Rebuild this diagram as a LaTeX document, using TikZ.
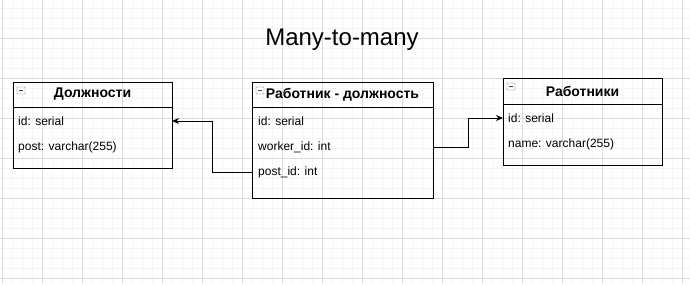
\documentclass[tikz,border=0pt]{standalone}
\usepackage{fontspec}
\setmainfont{Liberation Sans}
\usetikzlibrary{arrows.meta}

\tikzset{
  gridminor/.style={line width=1pt, color=black!4},
  gridmajor/.style={line width=1pt, color=black!14},
  tabhead/.style={draw, line width=1pt, anchor=north west, inner sep=0pt, outer sep=0pt,
    font=\bfseries\fontsize{14}{16}\selectfont},
  tabbody/.style={draw, line width=1pt, anchor=north west, inner sep=0pt, outer sep=0pt},
  field/.style={anchor=west, inner sep=0pt, font=\fontsize{12}{14}\selectfont},
  link/.style={line width=1pt, -{Stealth[length=7pt,width=6pt]}},
}

% small collapse box in the corner of a table header
\newcommand{\collapsebox}[1]{%
  \draw[shift={#1}, black!55, fill=white, rounded corners=0.5pt] (0,0) rectangle (8,7);
  \draw[shift={#1}, black!70] (2,3.5) -- (6,3.5);}

\begin{document}
\begin{tikzpicture}[x=1pt, y=-1pt]
	\useasboundingbox (0,0) rectangle (690,284);
	\fill[white] (0,0) rectangle (690,284);
	% background grid
	\foreach \x in {2,12,...,682} \draw[gridminor] (\x,0) -- (\x,284);
	\foreach \y in {8,18,...,278} \draw[gridminor] (0,\y) -- (690,\y);
	\foreach \x in {2,42,...,682} \draw[gridmajor] (\x,0) -- (\x,284);
	\foreach \y in {38,78,...,278} \draw[gridmajor] (0,\y) -- (690,\y);

	\node (title) at (342,40) {\fontsize{24}{28}\selectfont Many-to-many};

	% positions table
	\node[tabhead, minimum width=159pt, minimum height=25pt] (post-head) at (13,82) {Должности};
	\node[tabbody, minimum width=159pt, minimum height=61pt] (post-body) at (13,107) {};
	\collapsebox{(17,87)}
	\node[field] (post-id) at (18,121) {id: serial};
	\node[field] (post-name) at (18,147) {post: varchar(255)};

	% link table
	\node[tabhead, minimum width=181pt, minimum height=25pt] (link-head) at (252,82) {Работник - должность};
	\node[tabbody, minimum width=181pt, minimum height=91pt] (link-body) at (252,107) {};
	\collapsebox{(256,87)}
	\node[field] (link-id) at (258,121) {id: serial};
	\node[field] (link-workerid) at (258,147) {worker\_id: int};
	\node[field] (link-postid) at (258,172) {post\_id: int};

	% workers table
	\node[tabhead, minimum width=159pt, minimum height=26pt] (worker-head) at (503,78) {Работники};
	\node[tabbody, minimum width=159pt, minimum height=61pt] (worker-body) at (503,104) {};
	\collapsebox{(507,83)}
	\node[field] (worker-id) at (508,118) {id: serial};
	\node[field] (worker-name) at (508,144) {name: varchar(255)};

	% foreign keys
	\draw[link] (link-body.west |- link-postid) -- ++(-40,0) |- (post-body.east |- post-id);
	\draw[link] (link-body.east |- link-workerid) -- ++(35,0) |- (worker-body.west |- worker-id);
\end{tikzpicture}
\end{document}
